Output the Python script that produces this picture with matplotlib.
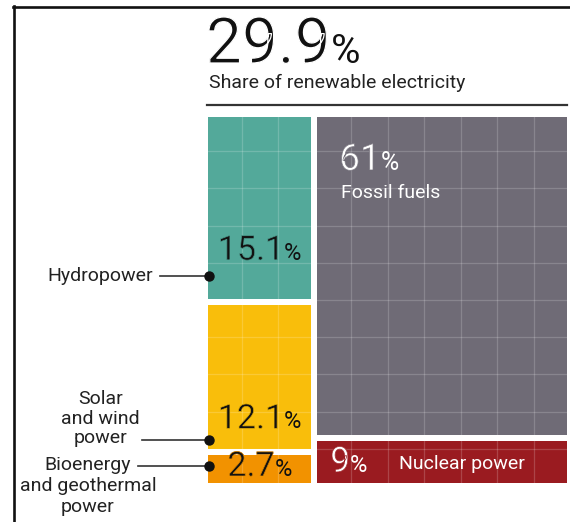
import matplotlib
matplotlib.use("Agg")
import matplotlib.pyplot as plt
import matplotlib.patheffects as pe
from matplotlib.patches import Rectangle
from matplotlib.lines import Line2D
from matplotlib.transforms import IdentityTransform

# ---------------- data ----------------
renewable_share = 29.9
renew_labels = ["Hydropower", "Solar\nand wind\npower", "Bioenergy\nand geothermal\npower"]
renew_values = [15.1, 12.1, 2.7]
other_labels = ["Fossil fuels", "Nuclear power"]
other_values = [61, 9]

renew_colors = ["#53A99A", "#F9BE0B", "#F29200"]
other_colors = ["#6F6B76", "#9A1B20"]

FONT = "Roboto"
W, H = 570, 522
fig = plt.figure(figsize=(W / 100, H / 100), dpi=100)
fig.patch.set_facecolor("white")
R = fig.canvas.get_renderer()
ID = IdentityTransform()


def top(y):
    """convert a top-based pixel y into display y"""
    return H - y


# frame lines
fig.add_artist(Line2D([13 / W, 1], [top(6.5) / H] * 2, transform=fig.transFigure,
                      color="#111111", lw=1.9))
fig.add_artist(Line2D([14 / W] * 2, [0, top(5.5) / H], transform=fig.transFigure,
                      color="#111111", lw=1.9))
# rule under subtitle
fig.add_artist(Line2D([207 / W, 567 / W], [top(105) / H] * 2, transform=fig.transFigure,
                      color="#333333", lw=1.6))


def num_pct(px, py, num, s1, s2, color, bg, thin=0.5, ha="left"):
    effects = [pe.Normal(), pe.Stroke(linewidth=thin, foreground=bg)]
    t1 = fig.text(px, py, num, transform=ID, fontsize=s1, color=color, ha="left",
                  va="baseline", family=FONT, path_effects=effects)
    t2 = fig.text(px, py, "%", transform=ID, fontsize=s2, color=color, ha="left",
                  va="baseline", family=FONT)
    w1 = t1.get_window_extent(R).width
    w2 = t2.get_window_extent(R).width
    start = px - (w1 + w2) / 2 if ha == "center" else px
    t1.set_x(start)
    t2.set_x(start + w1)
    return t1, t2


# title
num_pct(206, top(63), f"{renewable_share}", 46, 29, "#111111", "white", thin=0.9)
fig.text(209, top(88), "Share of renewable electricity", transform=ID, fontsize=14,
         color="#222222", family=FONT, va="baseline")

# ---------------- tiles ----------------
ax = fig.add_axes([205 / W, (H - 486) / H, 365 / W, 372 / H])
total_cols = (sum(renew_values) + sum(other_values)) / 10
ax.set_xlim(0, total_cols)
ax.set_ylim(10, 0)
ax.axis("off")

gx = 3 * total_cols / 365
gy = 3 * 10 / 372

columns = [(renew_values, renew_colors), (other_values, other_colors)]
tiles = []
x0 = 0
for vals, cols in columns:
    cw = sum(vals) / 10
    y0 = 0
    for v, c in zip(vals, cols):
        h = v / cw
        rect = Rectangle((x0 + gx, y0 + gy), cw - 2 * gx, h - 2 * gy, facecolor=c,
                         edgecolor="none", zorder=1)
        ax.add_patch(rect)
        vl = ax.vlines(range(1, 10), 0, 10, colors="white", alpha=0.18, lw=0.9, zorder=2)
        hl = ax.hlines(range(1, 10), 0, total_cols, colors="white", alpha=0.18, lw=0.9, zorder=2)
        vl.set_clip_path(rect)
        hl.set_clip_path(rect)
        tiles.append((x0 + gx, y0 + gy, x0 + cw - gx, y0 + h - gy))
        y0 += h
    x0 += cw


def px_box(t):
    (xa, ya), (xb, yb) = ax.transData.transform([(t[0], t[1]), (t[2], t[3])])
    # left, right, top (display), bottom (display)
    return xa, xb, ya, yb


hyd, sol, bio = [px_box(t) for t in tiles[:3]]
fos, nuc = [px_box(t) for t in tiles[3:]]

# renewable number labels (centered)
num_pct((hyd[0] + hyd[1]) / 2, hyd[3] + 39, f"{renew_values[0]}", 24.5, 17, "#111111",
        renew_colors[0], ha="center")
num_pct((sol[0] + sol[1]) / 2, sol[3] + 21, f"{renew_values[1]}", 24.5, 17, "#111111",
        renew_colors[1], ha="center")
num_pct((bio[0] + bio[1]) / 2, bio[3] + 7, f"{renew_values[2]}", 24.5, 17, "#111111",
        renew_colors[2], ha="center")

# other labels
num_pct(fos[0] + 22, fos[2] - 53, f"{other_values[0]}", 26.5, 18, "white", other_colors[0])
fig.text(fos[0] + 24, fos[2] - 81, other_labels[0], transform=ID, fontsize=14,
         color="white", family=FONT, va="baseline")
num_pct(nuc[0] + 13, nuc[3] + 11, f"{other_values[1]}", 25.5, 17, "white", other_colors[1])
fig.text(nuc[0] + 82, nuc[3] + 11 + 8, other_labels[1], transform=ID, fontsize=14,
         color="white", family=FONT, va="center")

# leaders and left labels
lead_color = "#333333"
leaders = [
    (hyd, hyd[3] + 23, 160),
    (sol, sol[3] + 9, 142),
    (bio, (bio[2] + bio[3]) / 2 + 3, 138),
]
for (box, ly, lx) in leaders:
    fig.add_artist(Line2D([lx, box[0] + 1], [ly, ly], transform=ID, color=lead_color, lw=1.2))
    fig.add_artist(Line2D([box[0] + 1], [ly], transform=ID, marker="o", markersize=6.5,
                          color="#111111", lw=0))

fig.text(153, leaders[0][1], renew_labels[0], transform=ID, fontsize=14, color="#222222",
         family=FONT, ha="right", va="center")
fig.text(140, leaders[1][1] - 7, renew_labels[1], transform=ID, fontsize=14, color="#222222",
         family=FONT, ha="right", va="bottom", multialignment="center", linespacing=1.12)
fig.text(88, leaders[2][1] + 10, renew_labels[2], transform=ID, fontsize=14, color="#222222",
         family=FONT, ha="center", va="top", multialignment="center", linespacing=1.22)

fig.savefig("out.png", dpi=100)
